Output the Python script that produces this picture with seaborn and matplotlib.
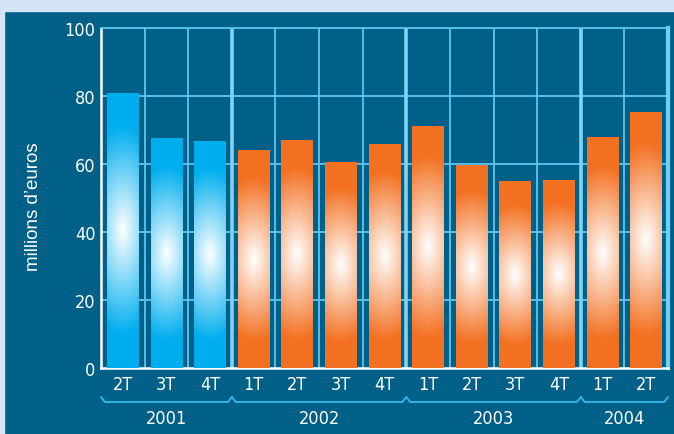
import numpy as np
import pandas as pd
import matplotlib
matplotlib.use("Agg")
import matplotlib.pyplot as plt
import seaborn as sns
from matplotlib.transforms import blended_transform_factory

# ---- data ----
quarters = ["2T", "3T", "4T", "1T", "2T", "3T", "4T", "1T", "2T", "3T", "4T", "1T", "2T"]
years = ["2001"] * 3 + ["2002"] * 4 + ["2003"] * 4 + ["2004"] * 2
values = [80.9, 67.6, 66.8, 64.1, 67.1, 60.6, 65.9, 71.2, 59.7, 55.0, 55.3, 67.9, 75.3]
year_labels = ["2001", "2002", "2003", "2004"]
yticks = [0, 20, 40, 60, 80, 100]
ylabel = "millions d\u2019euros"

# ---- style ----
BG = "#006088"
BLUE = "#00aeef"
ORANGE = "#f37021"
GRID = "#5cc6ee"
LIGHT = "#d3e5f5"

sns.set_theme(style="white")
plt.rcParams['font.family'] = ['DejaVu Sans']
plt.rcParams['font.stretch'] = 'condensed'

cats = [f"{y}-{q}" for y, q in zip(years, quarters)]
colors = [BLUE if y == "2001" else ORANGE for y in years]
df = pd.DataFrame({"cat": cats, "value": values})

W, H = 674, 435
fig = plt.figure(figsize=(W / 100, H / 100), dpi=100)
fig.patch.set_facecolor(BG)
fig.patches.append(plt.Rectangle((0, 1 - 12 / H), 1, 12 / H, transform=fig.transFigure,
                                 color=LIGHT, zorder=0))
fig.patches.append(plt.Rectangle((0, 0), 3.5 / W, 1, transform=fig.transFigure,
                                 color=LIGHT, zorder=0))

ax = fig.add_axes([101 / W, 66 / H, 567 / W, 340 / H])
ax.set_facecolor(BG)

sns.barplot(data=df, x="cat", y="value", hue="cat",
            palette=dict(zip(cats, colors)), width=0.73, saturation=1,
            legend=False, ax=ax, zorder=3, linewidth=0, edgecolor="none")

# gradient glow overlay on each bar
ny, nx = 240, 60
yy = np.linspace(0, 1, ny)[:, None]
xx = np.linspace(-0.5, 0.5, nx)[None, :]
r = np.sqrt((xx / 1.3) ** 2 + ((yy - 0.5) / 0.38) ** 2)
wgt = np.clip(1 - r, 0, 1) ** 1.0
for patch, col in zip(ax.patches, colors):
    x0 = patch.get_x()
    w = patch.get_width()
    h = patch.get_height()
    base = np.array(matplotlib.colors.to_rgb(col))
    img = base[None, None, :] * (1 - wgt[..., None]) + np.ones(3)[None, None, :] * wgt[..., None]
    im = ax.imshow(img, extent=[x0, x0 + w, 0, h], origin="lower", aspect="auto",
                   zorder=4, interpolation="bilinear")
    im.set_clip_path(patch)

ax.set_xlim(-0.5, len(values) - 0.5)
ax.set_ylim(0, 100)

# grid
for yv in yticks[1:-1]:
    ax.axhline(yv, color=GRID, lw=1.3, zorder=1)
year_bounds = []
idx = 0
for yl in year_labels:
    n = years.count(yl)
    year_bounds.append((idx - 0.5, idx + n - 0.5))
    idx += n
bnd_set = {b[1] for b in year_bounds[:-1]}
for i in range(len(values) - 1):
    xb = i + 0.5
    if xb in bnd_set:
        ax.axvline(xb, color="#7dd4f5", lw=2.6, zorder=1)
    else:
        ax.axvline(xb, color=GRID, lw=1.3, zorder=1)

for s in ["left", "bottom"]:
    ax.spines[s].set_color("white")
    ax.spines[s].set_linewidth(1.8)
ax.spines["top"].set_color(GRID)
ax.spines["top"].set_linewidth(1.3)
ax.spines["right"].set_color("#6fd0f5")
ax.spines["right"].set_linewidth(3)

ax.set_yticks(yticks)
ax.set_yticklabels([str(v) for v in yticks], color="white", fontsize=13)
ax.set_xticks(range(len(values)))
ax.set_xticklabels(quarters, color="white", fontsize=13)
ax.tick_params(axis="both", length=0)
ax.tick_params(axis="x", pad=5)
ax.tick_params(axis="y", pad=4)
ax.set_xlabel("")
ax.set_ylabel("")

fig.text(33 / W, 1 - 207 / H, ylabel, rotation=90, color="white", fontsize=13.5,
         ha="center", va="center", family="Liberation Sans", fontstretch="normal")

# braces and year labels
tr = blended_transform_factory(ax.transData, ax.transAxes)
y_line = -(403 - 369) / 340
y_peak = -(398 - 369) / 340
y_year = -(419 - 369) / 340
d = 0.09
for (x0, x1), yl in zip(year_bounds, year_labels):
    ax.plot([x0, x0 + d, x1 - d, x1], [y_peak, y_line, y_line, y_peak],
            color="#33b5ea", lw=1.4, transform=tr, clip_on=False, zorder=5)
    ax.text((x0 + x1) / 2, y_year, yl, transform=tr, color="white", fontsize=13,
            ha="center", va="center")

fig.savefig("out.png", dpi=100, facecolor=fig.get_facecolor())
